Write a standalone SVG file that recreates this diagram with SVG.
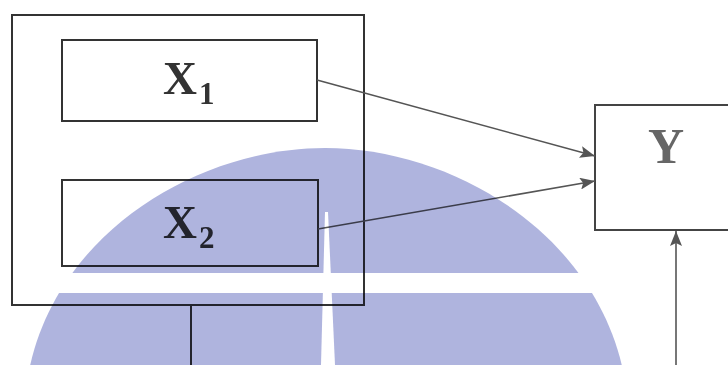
<svg xmlns="http://www.w3.org/2000/svg" width="728" height="365" viewBox="0 0 728 365">
  <style>
    .box { fill: none; stroke: #333; stroke-width: 2; }
    .conn { fill: none; stroke: #555; stroke-width: 1.6; }
    .lbl { font-family: "Liberation Serif", "Times New Roman", serif; font-weight: bold; fill: #333; }
  </style>
  <defs>
    <marker id="arr" markerUnits="userSpaceOnUse" markerWidth="16" markerHeight="12" refX="15" refY="6" orient="auto">
      <path d="M0,0 L15,6 L0,12 L3,6 Z" fill="#555"/>
    </marker>
    <mask id="wmMask" maskUnits="userSpaceOnUse" x="0" y="0" width="728" height="365">
      <rect x="0" y="0" width="728" height="365" fill="#fff"/>
      <rect x="0" y="273" width="728" height="20" fill="#000"/>
      <polygon points="325,212 328,212 335,365 321,365" fill="#000"/>
    </mask>
  </defs>
  <rect width="728" height="365" fill="#fff"/>

  <g id="group-x">
    <rect class="box" x="12" y="15" width="352" height="290"/>
  </g>
  <g id="node-x1">
    <rect class="box" x="62" y="40" width="255" height="81"/>
    <text class="lbl" x="163" y="94" font-size="47">X</text>
    <text class="lbl" x="199" y="104" font-size="31">1</text>
  </g>
  <g id="node-x2">
    <rect class="box" x="62" y="180" width="256" height="86"/>
    <text class="lbl" x="163" y="238" font-size="47">X</text>
    <text class="lbl" x="199" y="248" font-size="31">2</text>
  </g>
  <g id="node-y">
    <path d="M729,105 L595,105 L595,230 L729,230" fill="none" stroke="#444" stroke-width="2"/>
    <text class="lbl" x="666" y="163" font-size="50" text-anchor="middle" style="fill:#666">Y</text>
  </g>

  <g id="connectors">
    <line class="conn" x1="317" y1="80" x2="595" y2="156" marker-end="url(#arr)"/>
    <line class="conn" x1="318" y1="229" x2="595" y2="181" marker-end="url(#arr)"/>
    <line class="conn" x1="676" y1="365" x2="676" y2="231" marker-end="url(#arr)"/>
    <line class="box" x1="191" y1="305" x2="191" y2="366"/>
  </g>

  <g id="watermark" style="mix-blend-mode:multiply">
    <path d="M30,366 C60,230 200,148 325,148 C450,148 590,230 622,366 Z" fill="#afb4de" mask="url(#wmMask)"/>
  </g>
</svg>
